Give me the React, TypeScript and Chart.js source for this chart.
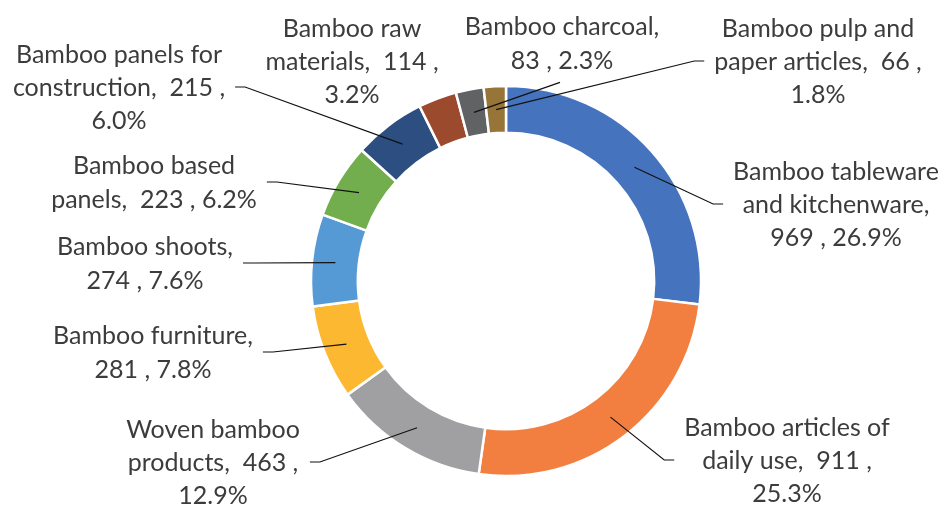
import React, { useEffect, useRef } from 'react';
import { Chart, registerables } from 'chart.js';

Chart.register(...registerables);

// ---- data ----
const categories = [
  'Bamboo tableware and kitchenware',
  'Bamboo articles of daily use',
  'Woven bamboo products',
  'Bamboo furniture',
  'Bamboo shoots',
  'Bamboo based panels',
  'Bamboo panels for construction',
  'Bamboo raw materials',
  'Bamboo charcoal',
  'Bamboo pulp and paper articles',
];
const values = [969, 911, 463, 281, 274, 223, 215, 114, 83, 66];
const colors = [
  '#4573BD', '#F27F40', '#A0A0A3', '#FCB831', '#559AD4',
  '#72AD4E', '#2D4E80', '#9C4A2E', '#616264', '#977437',
];

// ---- label layout (offsets from chart centre, words per line, leader side) ----
const labelDx = [330, 281, -293, -353, -361, -352, -387, -154, 56, 312];
const labelDy = [-76, 180, 182, 72, -17, -98, -193, -219, -237, -219];
const labelWordsPerLine = [
  [2, 2, 3], [3, 4, 1], [2, 3, 1], [2, 3], [2, 3],
  [2, 4], [3, 3, 1], [2, 3, 1], [2, 3], [3, 4, 1],
];
const leaderSide = ['left', 'left', 'right', 'right', 'right', 'right', 'right', 'none', 'bottom', 'left'];

const FONT = '25px Lato';
const LINE_H = 33.4;
const TEXT_COLOR = '#3c3c3c';

const total = values.reduce((a, b) => a + b, 0);

function buildLines(i: number): string[] {
  const pct = ((values[i] / total) * 100).toFixed(1) + '%';
  const text = `${categories[i]},  ${values[i]} , ${pct}`;
  const chunks = text.match(/\s*\S+/g) || [];
  const out: string[] = [];
  let k = 0;
  for (const n of labelWordsPerLine[i]) {
    out.push(chunks.slice(k, k + n).join('').trim());
    k += n;
  }
  return out;
}

const outLabels = {
  id: 'outLabels',
  afterDraw(chart: any) {
    const ctx: CanvasRenderingContext2D = chart.ctx;
    const meta = chart.getDatasetMeta(0);
    ctx.save();
    ctx.font = FONT;
    meta.data.forEach((arc: any, i: number) => {
      const p = arc.getProps(['x', 'y', 'startAngle', 'endAngle', 'innerRadius', 'outerRadius'], true);
      const mid = (p.startAngle + p.endAngle) / 2;
      const r = (p.innerRadius + p.outerRadius) / 2;
      const sx = p.x + Math.cos(mid) * r;
      const sy = p.y + Math.sin(mid) * r;
      const lines = buildLines(i);
      const cx = p.x + labelDx[i];
      const cy = p.y + labelDy[i];
      const maxW = Math.max(...lines.map((l) => ctx.measureText(l).width));
      const side = leaderSide[i];

      ctx.strokeStyle = '#111111';
      ctx.lineWidth = 1.2;
      ctx.beginPath();
      if (side === 'left') {
        const ax = cx - maxW / 2 - 10;
        const ay = cy - 1;
        ctx.moveTo(sx, sy);
        ctx.lineTo(ax - 10, ay);
        ctx.lineTo(ax, ay);
      } else if (side === 'right') {
        const ax = cx + maxW / 2 + 10;
        const ay = cy - 1;
        ctx.moveTo(sx, sy);
        ctx.lineTo(ax + 10, ay);
        ctx.lineTo(ax, ay);
      } else if (side === 'bottom') {
        const ax = cx - 2;
        const ay = cy + (lines.length / 2) * LINE_H + 5;
        ctx.moveTo(sx, sy);
        ctx.lineTo(ax, ay);
      }
      ctx.stroke();

      ctx.fillStyle = TEXT_COLOR;
      ctx.textAlign = 'center';
      ctx.textBaseline = 'middle';
      lines.forEach((l, k) => {
        ctx.fillText(l, cx, cy + (k - (lines.length - 1) / 2) * LINE_H);
      });
    });
    ctx.restore();
  },
};

export default function App() {
  const ref = useRef<HTMLCanvasElement>(null);
  useEffect(() => {
    if (!ref.current) return;
    const chart = new Chart(ref.current, {
      type: 'doughnut',
      data: {
        labels: categories,
        datasets: [
          {
            data: values,
            backgroundColor: colors,
            borderColor: '#ffffff',
            borderWidth: 2.5,
            hoverOffset: 0,
          },
        ],
      },
      options: {
        responsive: false,
        animation: false,
        radius: 195,
        cutout: '76%',
        layout: { padding: { left: 64, right: 0, top: 56, bottom: 0 } },
        plugins: {
          legend: { display: false },
          tooltip: { enabled: false },
        },
      } as any,
      plugins: [outLabels],
    });
    return () => chart.destroy();
  }, []);
  return (
    <div style={{ position: 'absolute', left: 0, top: 0, width: 948, height: 506, background: '#fff' }}>
      <canvas ref={ref} width={948} height={506} style={{ width: 948, height: 506 }} />
    </div>
  );
}
